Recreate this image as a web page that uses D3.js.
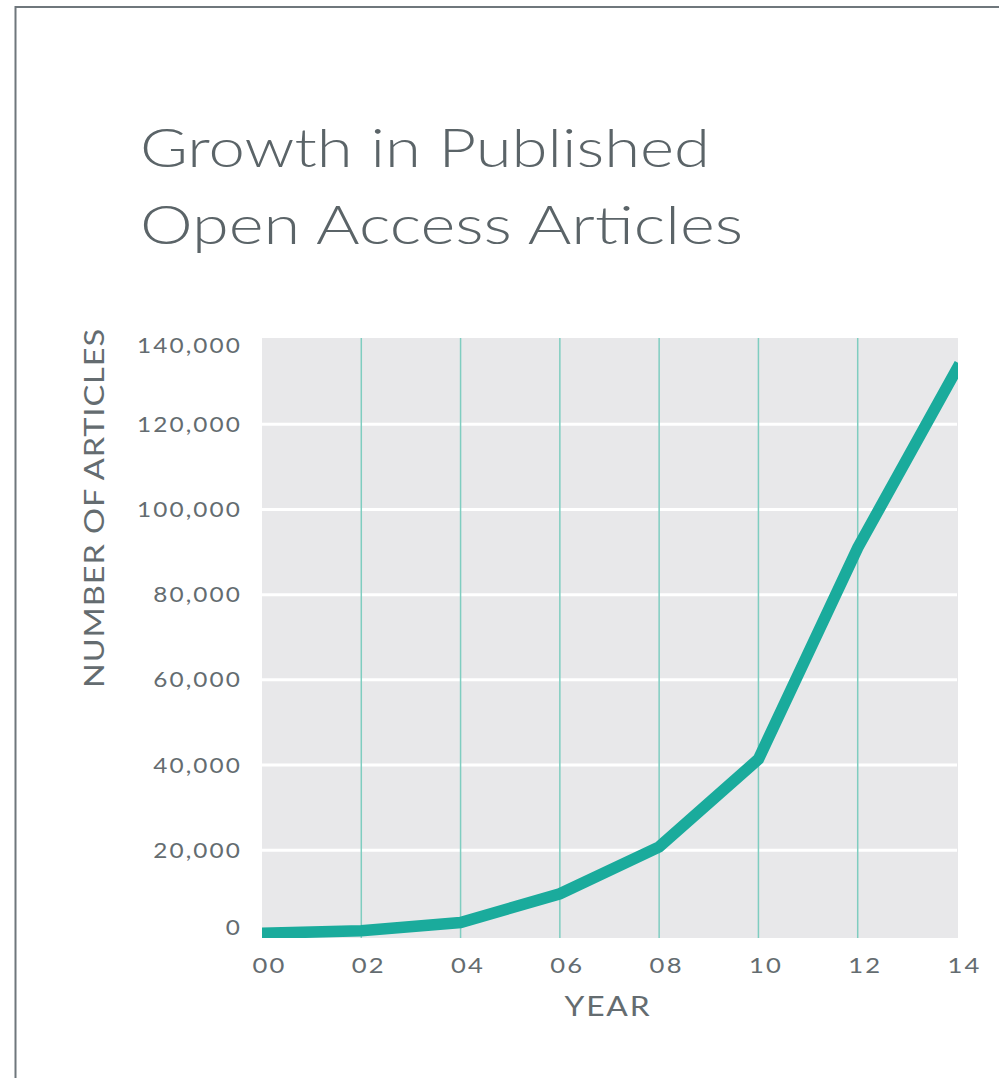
<!DOCTYPE html>
<html>
<head>
<meta charset="utf-8">
<script src="https://cdn.jsdelivr.net/npm/d3@7"></script>
<style>
  html, body { margin: 0; padding: 0; background: #fff; }
  svg { display: block; }
  text { font-family: Lato, "Open Sans", sans-serif; fill: #646c70; }
</style>
</head>
<body>
<svg id="chart" width="999" height="1078"></svg>
<script>
// ---- data ----
const titleLines = ["Growth in Published", "Open Access Articles"];
const years = [2000, 2002, 2004, 2006, 2008, 2010, 2012, 2014];
const articles = [500, 1100, 3050, 9800, 20800, 41400, 91000, 133000];
const yTicks = [0, 20000, 40000, 60000, 80000, 100000, 120000, 140000];
const xTickLabels = ["00", "02", "04", "06", "08", "10", "12", "14"];
const yAxisTitle = "NUMBER OF ARTICLES";
const xAxisTitle = "YEAR";

// ---- layout ----
const svg = d3.select("#chart");
const W = 999, H = 1078;
const plot = { left: 262, right: 957, top: 339, bottom: 935.5 };

const x = d3.scaleLinear().domain([2000, 2014]).range([plot.left, plot.right]);
const y = d3.scaleLinear().domain([0, 140000]).range([plot.bottom, plot.top]);

// widen glyphs slightly (Gotham-like proportions)
function widen(sel, k) {
  sel.each(function () {
    const w = this.getComputedTextLength();
    d3.select(this).attr("textLength", w * k).attr("lengthAdjust", "spacingAndGlyphs");
  });
}

// frame
svg.append("path")
  .attr("d", `M15.5,${H} L15.5,7 L${W},7`)
  .attr("fill", "none").attr("stroke", "#6f777c").attr("stroke-width", 2);

// title
titleLines.forEach((t, i) => {
  svg.append("text")
    .attr("x", 140).attr("y", 167 + i * 77)
    .attr("font-size", 54)
    .attr("font-weight", 300)
    .attr("textLength", i === 0 ? 570 : 603)
    .attr("lengthAdjust", "spacingAndGlyphs")
    .style("fill", "#5b6468")
    .text(t);
});

// plot background
svg.append("rect")
  .attr("x", plot.left).attr("y", plot.top - 1)
  .attr("width", plot.right - plot.left + 1).attr("height", plot.bottom - plot.top + 3.5)
  .attr("fill", "#e8e8ea");

// horizontal white gridlines
svg.append("g").selectAll("line")
  .data(yTicks.filter(v => v > 0 && v < 140000))
  .join("line")
  .attr("x1", plot.left).attr("x2", plot.right)
  .attr("y1", d => y(d)).attr("y2", d => y(d))
  .attr("stroke", "#ffffff").attr("stroke-width", 3);

// vertical teal gridlines
svg.append("g").selectAll("line")
  .data(years.filter(v => v > 2000 && v < 2014))
  .join("line")
  .attr("x1", d => x(d)).attr("x2", d => x(d))
  .attr("y1", plot.top - 1).attr("y2", plot.bottom + 2.5)
  .attr("stroke", "#7fcdc0").attr("stroke-width", 1.5);

// clip
svg.append("clipPath").attr("id", "clip")
  .append("rect")
  .attr("x", plot.left).attr("y", plot.top - 1)
  .attr("width", plot.right - plot.left + 1).attr("height", plot.bottom - plot.top + 3.5);

// line
const line = d3.line().x((d, i) => x(years[i])).y(d => y(d));
svg.append("path")
  .datum(articles)
  .attr("clip-path", "url(#clip)")
  .attr("d", line)
  .attr("fill", "none")
  .attr("stroke", "#1aab9c")
  .attr("stroke-width", 11.5)
  .attr("stroke-linejoin", "miter")
  .attr("stroke-linecap", "square");

// y axis tick labels
const yAxis = d3.axisLeft(y).tickValues(yTicks).tickSize(0).tickPadding(0)
  .tickFormat(d3.format(","));
const gy = svg.append("g").attr("transform", `translate(242,0)`).call(yAxis);
gy.select(".domain").remove();
gy.selectAll("text")
  .attr("font-size", 21)
  .attr("font-family", null)
  .style("letter-spacing", "1.8px")
  .attr("dy", d => d === 0 ? "-0.05em" : d === 140000 ? "0.65em" : "0.33em")
  .style("fill", "#646c70")
  .call(widen, 1.16);

// x axis tick labels
const xAxis = d3.axisBottom(x).tickValues(years).tickSize(0).tickPadding(0)
  .tickFormat((d, i) => xTickLabels[i]);
const gx = svg.append("g").attr("transform", `translate(7,${plot.bottom + 37})`).call(xAxis);
gx.select(".domain").remove();
gx.selectAll("text")
  .attr("font-size", 21)
  .attr("font-family", null)
  .attr("dy", 0)
  .style("letter-spacing", "1.8px")
  .style("fill", "#646c70")
  .call(widen, 1.22);

// axis titles
svg.append("text")
  .attr("transform", "translate(104,508) rotate(-90)")
  .attr("text-anchor", "middle")
  .attr("font-size", 27)
  .style("letter-spacing", "0.8px")
  .attr("textLength", 360)
  .attr("lengthAdjust", "spacingAndGlyphs")
  .text(yAxisTitle);

svg.append("text")
  .attr("x", 608).attr("y", 1016)
  .attr("text-anchor", "middle")
  .attr("font-size", 26)
  .style("letter-spacing", "1.5px")
  .attr("textLength", 87)
  .attr("lengthAdjust", "spacingAndGlyphs")
  .text(xAxisTitle);
</script>
</body>
</html>
